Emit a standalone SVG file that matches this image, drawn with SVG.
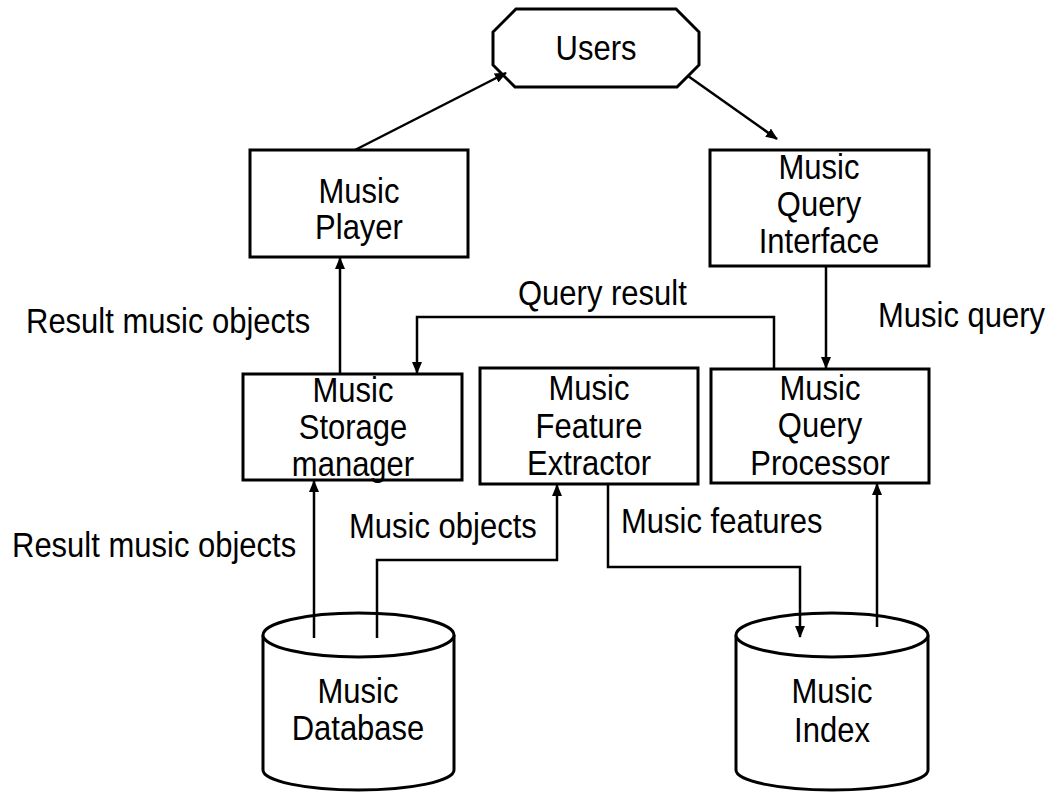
<svg xmlns="http://www.w3.org/2000/svg" width="1050" height="793" viewBox="0 0 1050 793">
<defs>
<marker id="ah" markerUnits="userSpaceOnUse" markerWidth="12" markerHeight="10" refX="11" refY="5" orient="auto">
<path d="M0,0 L12,5 L0,10 Z" fill="#000"/>
</marker>
<style>
.box{fill:#fff;stroke:#000;stroke-width:3}
.t{font-family:"Liberation Sans",Arial,sans-serif;font-size:31px;fill:#000}
.m{text-anchor:middle}
.c{fill:none;stroke:#000;stroke-width:2.5}
</style>
</defs>
<rect width="1050" height="793" fill="#fff"/>

<g id="users">
<polygon class="box" points="516,9 676,9 699,32 699,65 677,87 515,87 493,65 493,32"/>
<text class="t m" transform="translate(596,60) scale(1,1.12)">Users</text>
</g>

<g id="music-player">
<rect class="box" x="250" y="150" width="218" height="107"/>
<text class="t m" transform="translate(359,203) scale(1,1.12)">Music</text>
<text class="t m" transform="translate(359,239) scale(1,1.12)">Player</text>
</g>

<g id="music-query-interface">
<rect class="box" x="710" y="150" width="219" height="116"/>
<text class="t m" transform="translate(819,179) scale(1,1.12)">Music</text>
<text class="t m" transform="translate(819,216) scale(1,1.12)">Query</text>
<text class="t m" transform="translate(819,253) scale(1,1.12)">Interface</text>
</g>

<g id="music-storage-manager">
<rect class="box" x="243" y="374" width="219" height="106"/>
<text class="t m" transform="translate(353,402) scale(1,1.12)">Music</text>
<text class="t m" transform="translate(353,439) scale(1,1.12)">Storage</text>
<text class="t m" transform="translate(353,476) scale(1,1.12)">manager</text>
</g>

<g id="music-feature-extractor">
<rect class="box" x="480" y="368" width="218" height="116"/>
<text class="t m" transform="translate(589,400) scale(1,1.12)">Music</text>
<text class="t m" transform="translate(589,438) scale(1,1.12)">Feature</text>
<text class="t m" transform="translate(589,475) scale(1,1.12)">Extractor</text>
</g>

<g id="music-query-processor">
<rect class="box" x="711" y="369" width="218" height="114"/>
<text class="t m" transform="translate(820,400) scale(1,1.12)">Music</text>
<text class="t m" transform="translate(820,437) scale(1,1.12)">Query</text>
<text class="t m" transform="translate(820,475) scale(1,1.12)">Processor</text>
</g>

<g id="music-database">
<path class="box" d="M263,635 L263,770 A95.5,20 0 0 0 454,770 L454,635"/>
<ellipse class="box" cx="358.5" cy="635" rx="95.5" ry="22"/>
<text class="t m" transform="translate(358,703) scale(1,1.12)">Music</text>
<text class="t m" transform="translate(358,740) scale(1,1.12)">Database</text>
</g>

<g id="music-index">
<path class="box" d="M736,635 L736,770 A96,20 0 0 0 928,770 L928,635"/>
<ellipse class="box" cx="832" cy="635" rx="96" ry="22"/>
<text class="t m" transform="translate(832,703) scale(1,1.12)">Music</text>
<text class="t m" transform="translate(832,742) scale(1,1.12)">Index</text>
</g>

<g id="connectors">
<line class="c" x1="355" y1="150" x2="506" y2="73" marker-end="url(#ah)"/>
<line class="c" x1="688" y1="76" x2="777" y2="139" marker-end="url(#ah)"/>
<line class="c" x1="340" y1="374" x2="340" y2="258" marker-end="url(#ah)"/>
<polyline class="c" points="774,369 774,317 417,317 417,373" marker-end="url(#ah)"/>
<line class="c" x1="826" y1="266" x2="826" y2="368" marker-end="url(#ah)"/>
<line class="c" x1="314" y1="638" x2="314" y2="481" marker-end="url(#ah)"/>
<polyline class="c" points="377,638 377,560 557,560 557,485" marker-end="url(#ah)"/>
<polyline class="c" points="608,484 608,567 800,567 800,637" marker-end="url(#ah)"/>
<line class="c" x1="877" y1="627" x2="877" y2="484" marker-end="url(#ah)"/>
</g>

<g id="labels">
<text class="t" transform="translate(26,333) scale(1,1.12)">Result music objects</text>
<text class="t" transform="translate(518,305) scale(1,1.12)">Query result</text>
<text class="t" transform="translate(878,327) scale(1,1.12)">Music query</text>
<text class="t" transform="translate(12,557) scale(1,1.12)">Result music objects</text>
<text class="t" transform="translate(349,538) scale(1,1.12)">Music objects</text>
<text class="t" transform="translate(621,533) scale(1,1.12)">Music features</text>
</g>
</svg>
